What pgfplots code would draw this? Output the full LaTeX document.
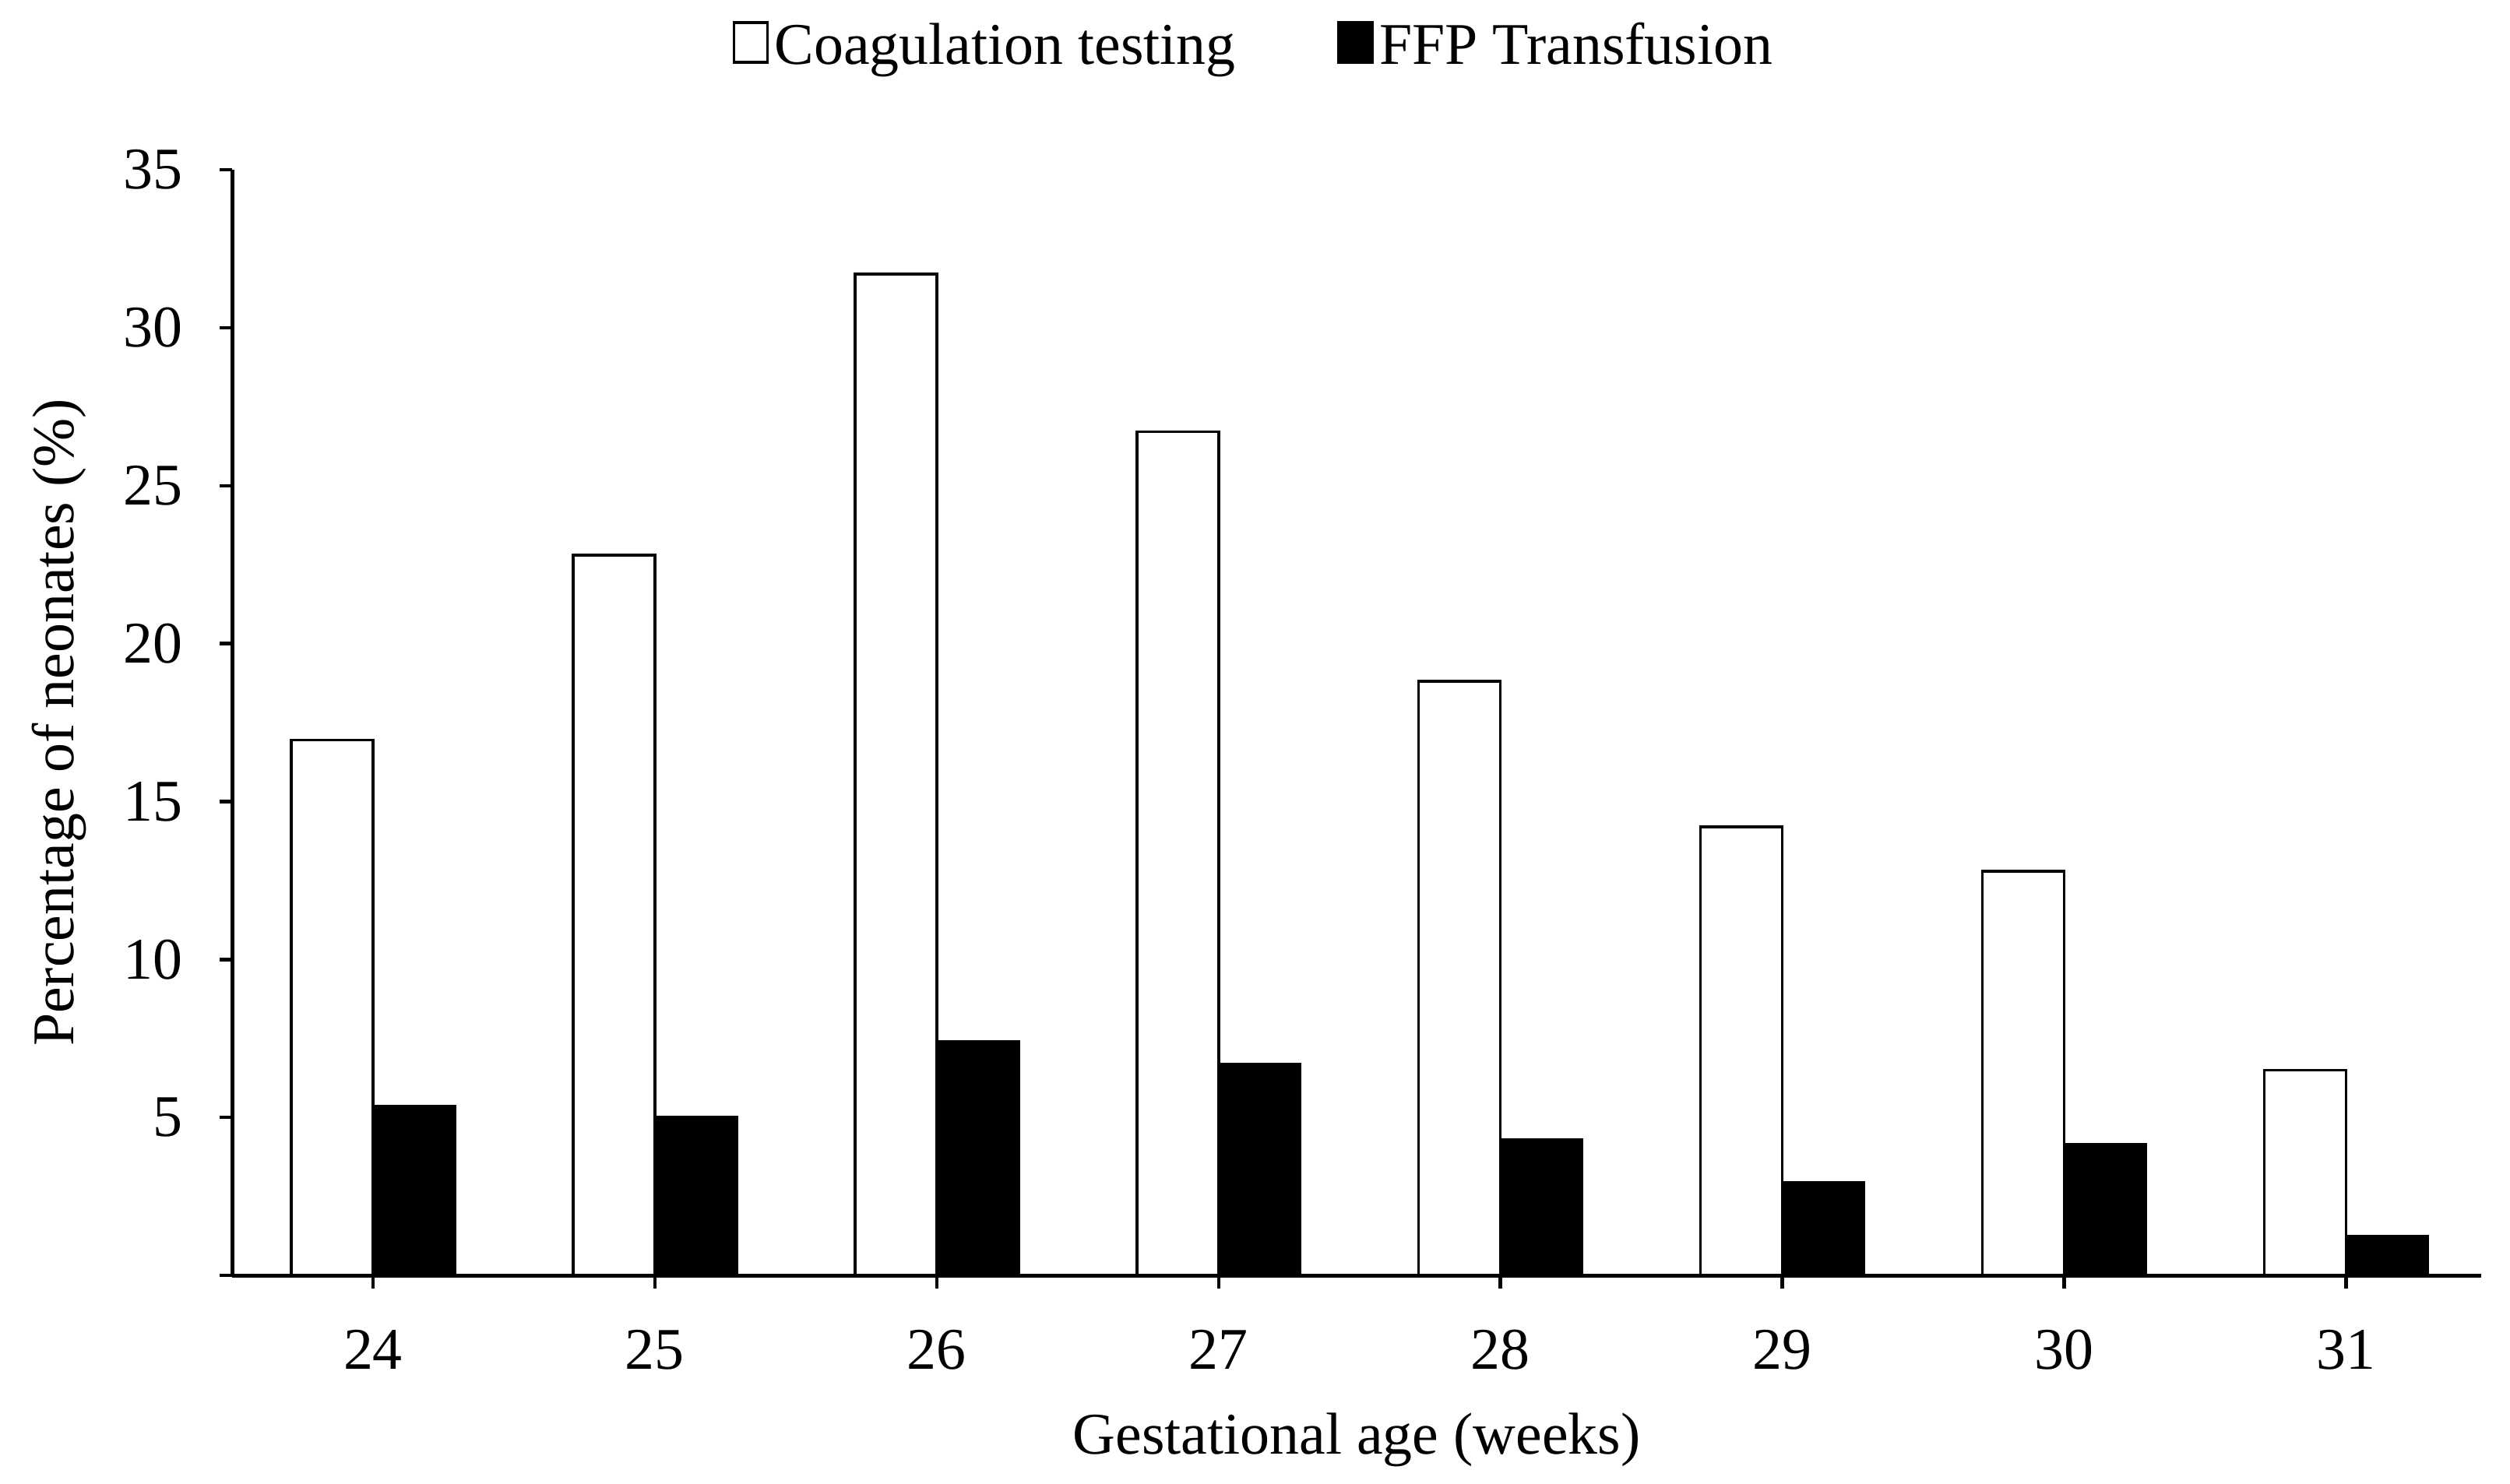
\documentclass[border=0pt]{standalone}
\usepackage{fontspec}
\setmainfont{Liberation Serif}
\usepackage{pgfplots}
\pgfplotsset{compat=1.18}
\begin{document}
\fontsize{10.5}{12.6}\selectfont
\begin{tikzpicture}
\begin{axis}[
  at={(0,0)}, anchor=south west,
  width=140.5mm, height=69.1mm, scale only axis,
  xmin=23.5, xmax=31.48, ymin=0, ymax=35,
  axis x line=bottom, axis y line=left,
  axis line style={-, line width=0.7pt},
  xtick={24,25,26,27,28,29,30,31},
  ytick={0,5,10,15,20,25,30,35},
  yticklabels={,5,10,15,20,25,30,35},
  tick align=outside, major tick length=0.8mm,
  tick style={line width=0.6pt, black},
  /pgf/number format/assume math mode=true,
  yticklabel style={font=\fontsize{10.5}{12.6}\selectfont, xshift=-1mm},
  xticklabel style={font=\fontsize{10.5}{12.6}\selectfont, yshift=-1.3mm},
  xlabel={Gestational age (weeks)},
  ylabel={Percentage of neonates (\%)},
  xlabel style={at={(axis description cs:0.5,-0.149)}, anchor=center},
  ylabel style={at={(axis description cs:-0.077,0.5)}, anchor=center},
  legend style={at={(axis description cs:0.455,1.11)}, anchor=center, draw=none,
    legend columns=2, /tikz/every even column/.append style={column sep=6mm},
    nodes={inner sep=1pt}},
  legend cell align=left,
]
\addplot[ybar, bar width=0.29, bar shift=-0.145, fill=white, draw=black, line width=0.5pt,
  legend image code/.code={\draw[fill=white, draw=black, line width=0.5pt] (0mm,-0.9mm) rectangle (2.1mm,1.6mm);}]
  coordinates {(24,16.95) (25,22.8) (26,31.7) (27,26.7) (28,18.8) (29,14.2) (30,12.8) (31,6.5)};
\addlegendentry{Coagulation testing}
\addplot[ybar, bar width=0.29, bar shift=0.145, fill=black, draw=black, line width=0.5pt,
  legend image code/.code={\draw[fill=black, draw=black, line width=0.5pt] (0mm,-0.9mm) rectangle (2.1mm,1.6mm);}]
  coordinates {(24,5.35) (25,5.0) (26,7.4) (27,6.7) (28,4.3) (29,2.95) (30,4.15) (31,1.25)};
\addlegendentry{FFP Transfusion}
\end{axis}
\pgfresetboundingbox
\path[use as bounding box] (-14.5mm,-13mm) rectangle (142.3mm,79.7mm);
\end{tikzpicture}
\end{document}
